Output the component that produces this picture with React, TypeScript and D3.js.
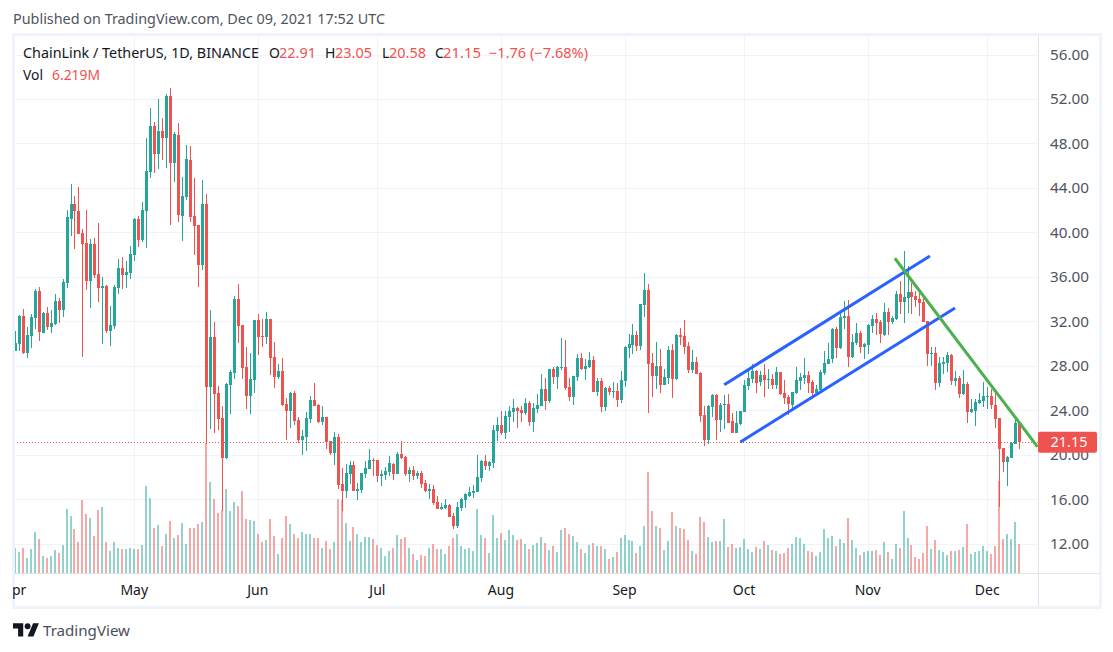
import * as d3 from 'd3';

const opens = [
  29.35,29.98,32.50,29.17,30.70,32.32,34.75,30.97,32.77,31.51,
  31.78,33.85,33.04,35.47,41.23,42.58,41.95,39.97,39.07,35.65,
  38.98,36.28,35.02,35.20,31.15,31.60,35.02,36.82,36.19,36.37,
  37.99,41.23,39.34,41.95,45.46,49.60,47.08,49.15,48.52,52.30,
  46.27,48.79,41.50,43.21,46.54,41.50,40.69,37.09,42.58,26.14,
  30.64,25.60,23.35,19.75,26.32,27.40,34.06,31.72,27.94,25.33,
  26.77,32.17,30.73,30.64,32.26,28.84,27.04,27.58,24.61,23.98,
  25.60,23.17,21.37,21.64,23.26,24.97,24.52,22.99,23.44,21.28,
  20.20,21.64,17.41,16.78,18.31,19.12,16.78,16.87,18.31,18.76,
  19.57,19.57,18.13,18.22,18.49,19.21,18.31,20.11,19.84,18.31,
  18.67,18.13,18.40,17.50,16.78,16.96,15.79,15.16,15.25,15.52,
  14.53,13.63,15.25,15.97,16.33,16.60,16.69,17.95,19.48,19.03,
  19.29,22.17,22.71,21.99,23.43,23.88,24.24,24.06,23.79,24.69,
  22.98,24.15,24.42,25.95,24.87,27.75,27.03,27.84,27.93,26.13,
  25.23,27.03,28.74,27.75,27.93,28.56,25.68,26.67,24.33,26.04,
  25.68,25.77,24.96,26.67,29.64,29.91,30.81,29.82,33.51,34.86,
  28.29,27.12,28.02,26.31,26.94,29.46,26.85,30.81,30.72,29.82,
  27.66,28.38,27.39,23.61,21.36,24.33,25.41,23.16,24.51,24.60,
  23.07,21.99,22.80,23.88,26.22,26.85,27.57,26.58,27.21,26.76,
  26.85,26.31,27.48,25.59,25.23,24.51,25.59,26.67,26.94,27.21,
  26.58,25.59,25.86,27.39,28.20,28.65,31.35,29.64,32.34,32.52,
  28.83,30.09,30.99,29.73,29.91,31.62,32.25,31.98,30.81,32.88,
  31.98,32.25,34.50,33.78,34.14,34.68,34.32,34.05,33.78,32.07,
  29.10,29.19,26.49,28.20,28.29,29.01,26.67,26.94,25.50,26.40,
  23.88,23.97,24.69,24.87,25.23,25.32,24.51,23.34,20.64,19.38,
  19.74,21.00,22.91,
];

const highs = [
  31.15,32.59,33.13,31.51,32.68,34.93,35.11,32.86,33.31,33.04,
  34.48,34.12,35.83,42.04,44.38,43.30,44.11,40.33,42.04,39.43,
  39.52,40.87,36.01,35.29,33.40,35.29,37.63,37.81,37.45,38.80,
  41.32,41.50,42.76,48.52,51.22,49.96,52.03,50.32,52.48,53.02,
  49.06,49.87,45.01,47.89,47.80,44.92,40.69,44.74,43.48,33.07,
  31.99,26.23,24.43,26.50,27.67,34.33,35.41,31.72,29.74,29.20,
  32.17,32.71,32.26,32.89,32.26,30.19,28.21,28.75,25.15,25.69,
  25.78,23.44,22.27,23.89,25.33,26.50,24.61,24.43,23.44,21.28,
  22.09,21.91,18.85,19.21,19.48,19.48,17.50,18.40,19.48,20.56,
  19.75,19.57,18.67,18.94,19.93,19.30,20.29,21.28,19.93,18.94,
  19.03,18.58,18.58,17.77,17.41,17.32,16.33,15.70,16.06,15.61,
  14.80,15.79,16.15,16.60,17.14,17.32,20.02,19.57,20.02,19.48,
  22.71,23.43,23.97,23.97,24.42,25.05,24.33,24.42,25.14,24.87,
  24.69,25.50,27.30,26.94,27.75,27.93,28.02,30.54,30.36,26.94,
  27.12,29.10,29.19,28.65,29.28,28.92,26.94,26.94,26.13,26.22,
  26.58,26.49,27.57,29.82,30.90,31.80,31.17,33.60,36.39,35.40,
  29.19,30.18,29.55,27.75,29.82,30.00,30.90,31.44,32.16,30.18,
  29.46,28.83,27.48,24.42,24.51,25.50,25.50,24.69,25.41,25.50,
  23.79,23.97,23.97,26.76,27.75,28.20,27.66,27.57,28.20,27.75,
  27.30,27.93,27.48,26.76,25.41,25.68,27.93,27.39,28.74,27.57,
  26.76,26.31,27.66,29.37,30.09,31.44,31.53,32.88,33.87,33.96,
  30.90,31.89,31.17,30.09,31.80,32.61,32.79,32.16,33.69,33.24,
  32.52,34.77,35.67,38.37,37.02,35.49,34.77,34.77,34.50,32.07,
  29.73,29.73,28.83,28.83,29.28,29.10,27.57,27.12,27.66,26.58,
  25.05,25.05,25.59,26.58,26.13,25.95,25.86,23.34,20.64,19.92,
  21.18,23.34,23.05,
];

const lows = [
  29.35,29.38,29.08,28.75,29.62,31.33,30.25,30.97,31.24,30.97,
  31.69,31.87,32.41,35.02,39.70,38.53,39.88,28.81,34.84,33.22,
  35.92,33.76,29.98,30.97,29.80,31.33,34.48,34.93,35.02,35.83,
  37.45,38.71,39.16,38.62,44.92,45.37,45.73,46.54,45.82,40.69,
  44.56,40.96,39.25,42.94,40.96,37.99,35.11,36.64,21.00,22.36,
  22.00,22.27,14.98,19.66,23.71,26.86,30.10,26.86,24.16,23.71,
  25.60,29.02,29.74,30.01,27.22,26.05,26.86,24.43,21.37,22.45,
  22.72,21.10,20.02,20.38,22.90,24.43,22.90,22.72,20.56,20.02,
  19.12,16.96,14.98,16.15,17.41,16.78,15.97,16.60,17.95,18.76,
  18.13,17.59,17.23,17.77,18.13,17.77,18.31,19.66,18.13,17.59,
  17.77,17.86,17.05,16.69,16.06,15.52,15.16,15.07,15.16,14.44,
  13.36,13.45,14.98,15.25,16.24,16.15,16.69,17.59,18.67,18.58,
  18.84,21.27,21.81,21.45,22.08,22.98,22.44,22.98,23.61,22.62,
  22.08,23.79,24.42,24.06,24.69,26.40,25.95,27.66,25.86,24.87,
  24.51,26.67,27.66,26.76,27.84,25.68,25.32,23.88,23.97,25.41,
  25.14,24.33,24.69,26.13,28.74,29.10,29.37,29.46,32.43,23.79,
  25.23,25.95,25.59,26.31,26.40,25.14,26.76,29.91,29.10,27.39,
  27.39,27.30,22.98,20.82,21.00,23.43,21.36,22.08,22.35,22.89,
  21.99,21.99,22.71,23.88,25.86,26.49,25.59,26.22,25.23,25.95,
  25.95,25.95,25.41,24.60,23.61,24.15,25.50,25.86,26.40,25.59,
  25.23,25.59,25.86,27.21,28.20,28.29,28.74,29.55,31.35,27.93,
  28.74,29.91,29.19,28.65,29.10,31.02,30.81,30.09,30.72,30.81,
  31.80,32.16,32.70,31.89,32.79,32.70,33.33,32.52,31.98,28.02,
  28.02,25.86,26.13,27.30,27.48,26.31,26.22,25.14,25.41,22.89,
  23.79,22.62,24.60,24.33,24.15,24.15,22.44,15.36,18.48,17.22,
  19.74,21.00,20.58,
];

const closes = [
  30.07,32.50,29.17,30.79,32.41,34.75,31.06,32.77,31.51,31.87,
  33.85,33.04,35.56,41.41,42.58,41.95,39.88,38.98,35.65,38.98,
  36.19,35.02,35.20,31.15,31.69,35.11,36.82,36.19,36.46,38.08,
  41.23,39.34,42.04,45.55,49.60,47.08,49.15,48.52,52.30,46.27,
  48.88,41.59,43.30,46.63,41.41,40.60,37.09,42.58,26.17,30.64,
  25.51,23.26,19.75,26.41,27.49,34.06,31.63,27.85,25.33,26.86,
  32.17,30.64,30.64,32.26,28.75,27.04,27.58,24.52,23.98,25.60,
  23.08,21.37,21.73,23.35,24.97,24.43,22.99,23.44,21.19,20.20,
  21.64,17.32,16.78,18.40,19.12,16.78,16.96,18.40,18.85,19.57,
  19.48,18.13,18.31,18.58,19.30,18.31,20.11,19.75,18.31,18.67,
  18.13,18.40,17.41,16.78,16.96,15.70,15.16,15.34,15.52,14.44,
  13.63,15.34,16.06,16.51,16.69,16.78,18.04,19.48,19.03,19.39,
  22.26,22.71,21.99,23.52,23.97,24.24,23.97,23.79,24.69,22.98,
  24.24,24.51,25.95,24.87,27.75,27.03,27.93,27.93,26.04,25.23,
  27.12,28.74,27.75,28.02,28.56,25.68,26.67,24.33,26.04,25.68,
  25.77,24.96,26.76,29.73,30.00,30.81,29.82,33.60,34.86,28.20,
  27.12,28.02,26.31,27.03,29.46,26.85,30.81,30.63,29.73,27.66,
  28.38,27.30,23.52,21.36,24.42,25.41,23.16,24.51,24.60,22.89,
  21.99,22.89,23.97,26.31,26.94,27.57,26.49,27.21,26.76,26.85,
  26.31,27.48,25.50,25.14,24.60,25.68,26.76,27.03,27.21,26.49,
  25.59,25.95,27.48,28.29,28.65,31.35,29.64,32.43,32.52,28.83,
  30.18,30.99,29.73,30.00,31.71,32.25,31.89,30.90,32.88,31.98,
  32.34,34.50,33.78,34.23,34.68,34.23,33.96,33.69,31.98,29.10,
  29.19,26.49,28.29,28.38,29.01,26.67,26.94,25.50,26.40,23.88,
  24.15,24.78,24.96,25.32,25.32,24.51,23.25,20.55,19.38,19.83,
  21.09,22.89,21.15,
];

// millions
const volumes = [
  5.37,4.52,5.37,3.25,5.16,8.77,7.28,3.68,3.25,3.68,
  4.95,4.31,6.01,13.65,12.16,9.40,6.65,15.55,12.58,11.74,
  7.92,13.43,14.07,6.65,4.74,6.65,5.37,5.16,5.16,5.37,
  5.16,5.16,6.01,18.74,16.19,9.62,10.25,5.80,8.34,11.10,
  7.49,8.13,10.68,6.22,9.62,9.62,10.46,10.89,27.80,19.58,
  15.77,12.80,13.43,18.10,13.22,15.13,14.28,17.68,11.52,11.31,
  11.10,8.34,6.65,7.07,11.52,7.92,4.10,7.49,12.16,10.46,
  8.34,7.49,8.77,8.34,8.34,7.49,7.49,5.37,6.86,5.16,
  6.65,15.77,15.55,10.68,6.86,9.83,8.34,6.65,7.71,7.71,
  7.28,6.01,5.37,3.68,4.74,5.37,8.13,7.28,7.71,5.37,
  4.10,2.83,3.89,3.68,5.37,6.22,5.16,5.16,4.10,5.80,
  7.49,8.34,5.80,5.16,5.37,4.74,13.65,8.13,7.49,4.31,
  12.37,7.49,8.55,7.07,9.19,8.13,7.07,7.28,6.22,5.16,
  6.01,6.43,7.71,6.43,4.95,5.80,4.52,9.19,9.62,8.34,
  7.92,6.65,5.16,4.31,6.01,6.43,5.80,5.80,5.16,3.04,
  3.46,4.52,7.49,8.13,7.07,6.86,4.31,5.80,10.04,21.70,
  13.22,10.04,9.62,4.95,6.86,13.01,10.04,9.62,9.40,7.07,
  4.74,4.10,11.95,10.89,7.71,6.65,6.86,6.86,11.52,5.59,
  6.22,5.37,5.59,7.28,5.16,4.52,5.59,5.16,6.86,6.01,
  4.95,4.74,4.10,4.31,5.37,6.22,7.71,7.49,6.22,4.74,
  4.52,3.68,4.52,9.40,7.49,7.92,5.80,7.28,6.43,11.74,
  7.07,5.37,3.89,4.52,4.74,4.74,4.95,3.89,6.65,4.52,
  3.04,6.22,5.37,13.22,7.49,6.01,3.46,3.04,4.31,10.04,
  5.16,7.07,4.95,4.52,3.89,4.74,4.74,4.95,5.59,10.46,
  4.10,4.52,4.74,5.80,4.74,4.10,5.80,19.80,7.28,8.34,
  7.28,10.89,6.219,
];

const priceTicks = [56, 52, 48, 44, 40, 36, 32, 28, 24, 20, 16, 12];
const monthNames = ['Apr', 'May', 'Jun', 'Jul', 'Aug', 'Sep', 'Oct', 'Nov', 'Dec'];
const monthStarts = [0, 30, 61, 91, 122, 153, 183, 214, 244]; // candle index of the 1st

// drawings: [startIndex, startPrice, endIndex, endPrice]
const channelUpper = [177.9, 26.33, 229.5, 37.91];
const channelLower = [181.96, 21.18, 235.8, 33.23];
const downTrend = [220.7, 37.71, 256.5, 20.75];

const lastClose = 21.15;
const lastVolume = 6.219;

const UP = '#26a69a';
const DOWN = '#ef5350';
const GRID = '#f0f3fa';
const FONT = '"Noto Sans", sans-serif';

const x = d3.scaleLinear().domain([0, 252]).range([15.2, 1019.6]);
const y = d3.scaleLinear().domain([12, 56]).range([544, 55]);
const yVol = d3.scaleLinear().domain([0, lastVolume]).range([573, 544]);

const trendPath = d3
  .line<[number, number]>()
  .x(d => x(d[0]))
  .y(d => y(d[1]));

const drawing = (t: number[]) =>
  trendPath([
    [t[0], t[1]],
    [t[2], t[3]],
  ]) as string;

export default function App() {
  return (
    <svg
      width={1113}
      height={652}
      style={{ position: 'absolute', left: 0, top: 0, background: '#fff' }}
      fontFamily={FONT}
    >
      <defs>
        <clipPath id="pane">
          <rect x={14} y={36} width={1024} height={537} />
        </clipPath>
        <clipPath id="timeAxis">
          <rect x={13} y={574} width={1025} height={32} />
        </clipPath>
      </defs>

      <text x={13} y={24} fontSize={14} fill="#50535e" textLength={372} lengthAdjust="spacingAndGlyphs">
        Published on TradingView.com, Dec 09, 2021 17:52 UTC
      </text>

      {/* grid */}
      <g shapeRendering="crispEdges" stroke={GRID}>
        {priceTicks.map(t => (
          <line key={t} x1={14} x2={1038} y1={Math.floor(y(t)) + 0.5} y2={Math.floor(y(t)) + 0.5} />
        ))}
        {monthStarts.slice(1).map(i => (
          <line key={i} x1={Math.floor(x(i)) + 0.5} x2={Math.floor(x(i)) + 0.5} y1={36} y2={573} />
        ))}
      </g>

      {/* volume */}
      <g shapeRendering="crispEdges" opacity={0.5}>
        {volumes.map((v, i) => (
          <rect
            key={i}
            x={Math.floor(x(i)) - 1}
            width={2}
            y={yVol(v)}
            height={573 - yVol(v)}
            fill={closes[i] >= opens[i] ? UP : DOWN}
          />
        ))}
      </g>

      <line
        x1={14}
        x2={1038}
        y1={Math.floor(y(lastClose)) + 0.5}
        y2={Math.floor(y(lastClose)) + 0.5}
        stroke={DOWN}
        strokeDasharray="1 2"
        shapeRendering="crispEdges"
      />

      {/* candles */}
      <g clipPath="url(#pane)" shapeRendering="crispEdges">
        {closes.map((c, i) => {
          const o = opens[i];
          const color = c >= o ? UP : DOWN;
          const top = y(Math.max(o, c));
          const bottom = y(Math.min(o, c));
          const cx = Math.floor(x(i));
          return (
            <g key={i} fill={color}>
              <rect x={cx} width={1} y={y(highs[i])} height={y(lows[i]) - y(highs[i])} />
              <rect x={cx - 1} width={3} y={top} height={Math.max(1, bottom - top)} />
            </g>
          );
        })}
      </g>

      {/* drawings */}
      <g clipPath="url(#pane)" fill="none" strokeWidth={3}>
        <path d={drawing(channelUpper)} stroke="#2962ff" />
        <path d={drawing(channelLower)} stroke="#2962ff" />
        <path d={drawing(downTrend)} stroke="#4caf50" />
      </g>

      {/* legend */}
      <g fontSize={14}>
        <text x={23} y={58} fill="#131722" textLength={236} lengthAdjust="spacingAndGlyphs">
          ChainLink / TetherUS, 1D, BINANCE
        </text>
        <text x={269} y={58} fill="#131722">O</text>
        <text x={279} y={58} fill={DOWN} textLength={37} lengthAdjust="spacingAndGlyphs">22.91</text>
        <text x={325} y={58} fill="#131722">H</text>
        <text x={335} y={58} fill={DOWN} textLength={37} lengthAdjust="spacingAndGlyphs">23.05</text>
        <text x={382} y={58} fill="#131722">L</text>
        <text x={389} y={58} fill={DOWN} textLength={37} lengthAdjust="spacingAndGlyphs">20.58</text>
        <text x={435} y={58} fill="#131722">C</text>
        <text x={443} y={58} fill={DOWN} textLength={38} lengthAdjust="spacingAndGlyphs">21.15</text>
        <text x={489} y={58} fill={DOWN} textLength={99} lengthAdjust="spacingAndGlyphs">−1.76 (−7.68%)</text>
        <text x={23} y={80} fill="#131722" textLength={20} lengthAdjust="spacingAndGlyphs">Vol</text>
        <text x={52} y={80} fill={DOWN} textLength={48} lengthAdjust="spacingAndGlyphs">6.219M</text>
      </g>

      {/* frame and axes */}
      <g shapeRendering="crispEdges" fill="none">
        <rect x={13.5} y={34.5} width={1087} height={573} stroke={GRID} strokeWidth={3} />
        <line x1={1038.5} x2={1038.5} y1={36} y2={606} stroke="#e0e3eb" />
        <line x1={14} x2={1099} y1={573.5} y2={573.5} stroke="#e0e3eb" />
      </g>

      {/* price axis */}
      <g fontSize={14} fill="#50535e" textAnchor="start">
        {priceTicks.map(t => (
          <text key={t} x={1050} y={y(t)} dy="0.36em" textLength={39} lengthAdjust="spacingAndGlyphs">
            {d3.format('.2f')(t)}
          </text>
        ))}
      </g>
      <rect x={1038} y={y(lastClose) - 10.5} width={59} height={21} rx={2} fill={DOWN} />
      <text
        x={1069}
        y={y(lastClose)}
        dy="0.36em"
        fontSize={14}
        fill="#fff"
        textAnchor="middle"
        textLength={37}
        lengthAdjust="spacingAndGlyphs"
      >
        21.15
      </text>

      {/* time axis */}
      <g clipPath="url(#timeAxis)" fontSize={14} fill="#131722" textAnchor="middle">
        {monthNames.map((m, i) => (
          <text key={m} x={x(monthStarts[i]) - 0.5} y={595}>
            {m}
          </text>
        ))}
      </g>

      {/* logo */}
      <g transform="translate(13 620.4) scale(0.73)" fill="#131722">
        <path d="M14 22H7V11H0V4h14v18zM28 22h-8l7.5-18h8L28 22z" />
        <circle cx={20} cy={8} r={4} />
      </g>
      <text x={43} y={636} fontSize={15} fill="#4a4e5a" textLength={87} lengthAdjust="spacingAndGlyphs">
        TradingView
      </text>
    </svg>
  );
}
